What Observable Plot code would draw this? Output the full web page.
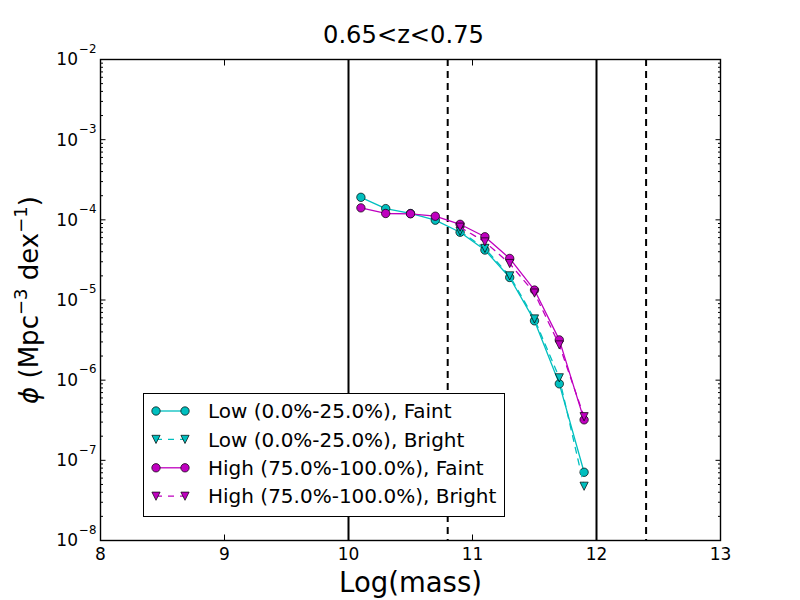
<!DOCTYPE html>
<html>
<head>
<meta charset="utf-8">
<script src="https://cdn.jsdelivr.net/npm/d3@7"></script>
<script src="https://cdn.jsdelivr.net/npm/@observablehq/plot@0.6"></script>
<style>
  html, body { margin: 0; padding: 0; background: #fff; }
  #chart { position: relative; width: 800px; height: 600px; font-family: "DejaVu Sans", sans-serif; }
  #legend { position: absolute; left: 143px; top: 393px; }
</style>
</head>
<body>
<div id="chart"></div>
<script>
// Mass bins (log10 M) for the stellar mass function
const massBins = [10.1, 10.3, 10.5, 10.7, 10.9, 11.1, 11.3, 11.5, 11.7, 11.9];
const brightBins = [10.9, 11.1, 11.3, 11.5, 11.7, 11.9];

// Number densities phi (Mpc^-3 dex^-1)
const lowFaint   = [1.91e-4, 1.38e-4, 1.20e-4, 9.9e-5, 7.0e-5, 4.2e-5, 1.91e-5, 5.5e-6, 9.0e-7, 7.1e-8];
const lowBright  = [7.2e-5, 4.4e-5, 2.0e-5, 5.8e-6, 1.07e-6, 4.75e-8];
const highFaint  = [1.41e-4, 1.20e-4, 1.19e-4, 1.11e-4, 8.8e-5, 6.15e-5, 3.3e-5, 1.33e-5, 3.18e-6, 3.2e-7];
const highBright = [8.1e-5, 5.3e-5, 2.85e-5, 1.22e-5, 2.75e-6, 3.5e-7];

// Mass limits: completeness (solid) and sample limits (dashed)
const solidLimits = [10, 12];
const dashedLimits = [10.8, 12.4];

// Axis ticks
const xTicks = [8, 9, 10, 11, 12, 13];
const yTicks = [1e-8, 1e-7, 1e-6, 1e-5, 1e-4, 1e-3, 1e-2];
const yMinorTicks = yTicks.slice(0, -1).flatMap(p => [2, 3, 4, 5, 6, 7, 8, 9].map(m => m * p));

const titleText = "0.65<z<0.75";
const xLabel = "Log(mass)";
const Y_LABEL_KEY = "phi-label";

const CYAN = "#00bfbf";
const MAGENTA = "#bf00bf";

// Downward triangle, like matplotlib's "v" marker
const triangleDown = {
  draw(ctx, size) {
    const h = Math.sqrt(size / Math.PI);
    ctx.moveTo(0, h);
    ctx.lineTo(-h, -h);
    ctx.lineTo(h, -h);
    ctx.closePath();
  }
};

const series = [
  {label: "Low (0.0%-25.0%), Faint",    bins: massBins,   values: lowFaint,   color: CYAN,    dashed: false, marker: "o"},
  {label: "Low (0.0%-25.0%), Bright",   bins: brightBins, values: lowBright,  color: CYAN,    dashed: true,  marker: "v"},
  {label: "High (75.0%-100.0%), Faint", bins: massBins,   values: highFaint,  color: MAGENTA, dashed: false, marker: "o"},
  {label: "High (75.0%-100.0%), Bright",bins: brightBins, values: highBright, color: MAGENTA, dashed: true,  marker: "v"}
];

const DASH = "6,6";

const seriesMarks = series.flatMap(s => {
  const rows = s.bins.map((m, i) => ({m, phi: s.values[i]}));
  return [
    Plot.line(rows, {x: "m", y: "phi", stroke: s.color, strokeWidth: 1.3, strokeDasharray: s.dashed ? DASH : null}),
    Plot.dot(rows, {x: "m", y: "phi", r: s.marker === "v" ? 4.1 : 4.2, fill: s.color, fillOpacity: 1,
      stroke: "black", strokeWidth: 0.7, symbol: s.marker === "v" ? triangleDown : "circle"})
  ];
});

const svg = Plot.plot({
  width: 800,
  height: 600,
  marginLeft: 100,
  marginRight: 80,
  marginTop: 59,
  marginBottom: 60,
  style: {fontFamily: "'DejaVu Sans', sans-serif", fontSize: "16.7px", color: "black", background: "white"},
  x: {domain: [8, 13]},
  y: {type: "log", domain: [1e-8, 1e-2]},
  marks: [
    // limit lines
    Plot.ruleX(solidLimits, {stroke: "black", strokeWidth: 2}),
    Plot.ruleX(dashedLimits, {stroke: "black", strokeWidth: 2, strokeDasharray: "7,5"}),

    ...seriesMarks,

    // inward ticks on all four sides
    Plot.axisX({anchor: "bottom", ticks: xTicks, tickSize: -5.5, tickFormat: () => "", label: null, strokeWidth: 1}),
    Plot.axisX({anchor: "top", ticks: xTicks, tickSize: -5.5, tickFormat: () => "", label: null, strokeWidth: 1}),
    Plot.axisY({anchor: "left", ticks: yTicks, tickSize: -5.5, tickFormat: () => "", label: null}),
    Plot.axisY({anchor: "right", ticks: yTicks, tickSize: -5.5, tickFormat: () => "", label: null}),
    Plot.axisY({anchor: "left", ticks: yMinorTicks, tickSize: -3, tickFormat: () => "", label: null}),
    Plot.axisY({anchor: "right", ticks: yMinorTicks, tickSize: -3, tickFormat: () => "", label: null}),

    // tick labels
    Plot.axisX({anchor: "bottom", ticks: xTicks, tickSize: 0, tickPadding: 7, tickFormat: d => String(d), label: null, fontSize: 17}),
    Plot.text(yTicks, {y: d => d, frameAnchor: "left", text: () => "10", textAnchor: "end", dx: -22.5, dy: 0.5, fontSize: 17}),
    Plot.text(yTicks, {y: d => d, frameAnchor: "left", text: d => "\u2212" + (-Math.round(Math.log10(d))), textAnchor: "start", dx: -21.5, dy: -10.5, fontSize: 11.8}),

    Plot.frame({stroke: "black", strokeWidth: 1.4}),

    // title and axis labels
    Plot.text([titleText], {frameAnchor: "top", lineAnchor: "bottom", dy: -17, dx: -7, fontSize: 24.2}),
    Plot.text([xLabel], {frameAnchor: "bottom", lineAnchor: "bottom", dy: 51, fontSize: 27.5}),
    Plot.text([Y_LABEL_KEY], {frameAnchor: "left", textAnchor: "middle", rotate: -90, lineAnchor: "bottom", dx: -63, fontSize: 26})
  ]
});

// y label with math-style superscripts
const yl = d3.select(svg).selectAll("text").filter(function () { return this.textContent === Y_LABEL_KEY; });
yl.attr("text-anchor", "middle");
yl.text(null);
yl.append("tspan").attr("font-style", "italic").text("\u03d5");
yl.append("tspan").text(" (Mpc");
yl.append("tspan").attr("dy", -11).attr("font-size", 18).text("\u22123");
yl.append("tspan").attr("dy", 11).text(" dex");
yl.append("tspan").attr("dy", -11).attr("font-size", 18).text("\u22121");
yl.append("tspan").attr("dy", 11).text(")");

const chart = document.getElementById("chart");
chart.appendChild(svg);

// Legend box
const LW = 362, LH = 124, rowY0 = 18, rowStep = 28.4;
const leg = d3.select(chart).append("svg")
  .attr("id", "legend")
  .attr("width", LW).attr("height", LH)
  .style("font-family", "'DejaVu Sans', sans-serif");
leg.append("rect").attr("x", 0.5).attr("y", 0.5).attr("width", LW - 1).attr("height", LH - 1)
  .attr("fill", "white").attr("stroke", "black").attr("stroke-width", 1);
series.forEach((s, i) => {
  const y = rowY0 + i * rowStep;
  const g = leg.append("g").attr("transform", `translate(0,${y})`);
  g.append("line").attr("x1", 13).attr("x2", 42).attr("y1", 0).attr("y2", 0)
    .attr("stroke", s.color).attr("stroke-width", 1.3).attr("stroke-dasharray", s.dashed ? DASH : null);
  [13, 42].forEach(cx => {
    if (s.marker === "o") {
      g.append("circle").attr("cx", cx).attr("cy", 0).attr("r", 4.2)
        .attr("fill", s.color).attr("stroke", "black").attr("stroke-width", 0.7);
    } else {
      const h = 4.1;
      g.append("path").attr("d", `M${cx},${h}L${cx - h},${-h}L${cx + h},${-h}Z`)
        .attr("fill", s.color).attr("stroke", "black").attr("stroke-width", 0.7);
    }
  });
  g.append("text").attr("x", 65).attr("y", 0).attr("dy", "0.36em")
    .attr("font-size", 20).attr("fill", "black").text(s.label);
});
</script>
</body>
</html>
